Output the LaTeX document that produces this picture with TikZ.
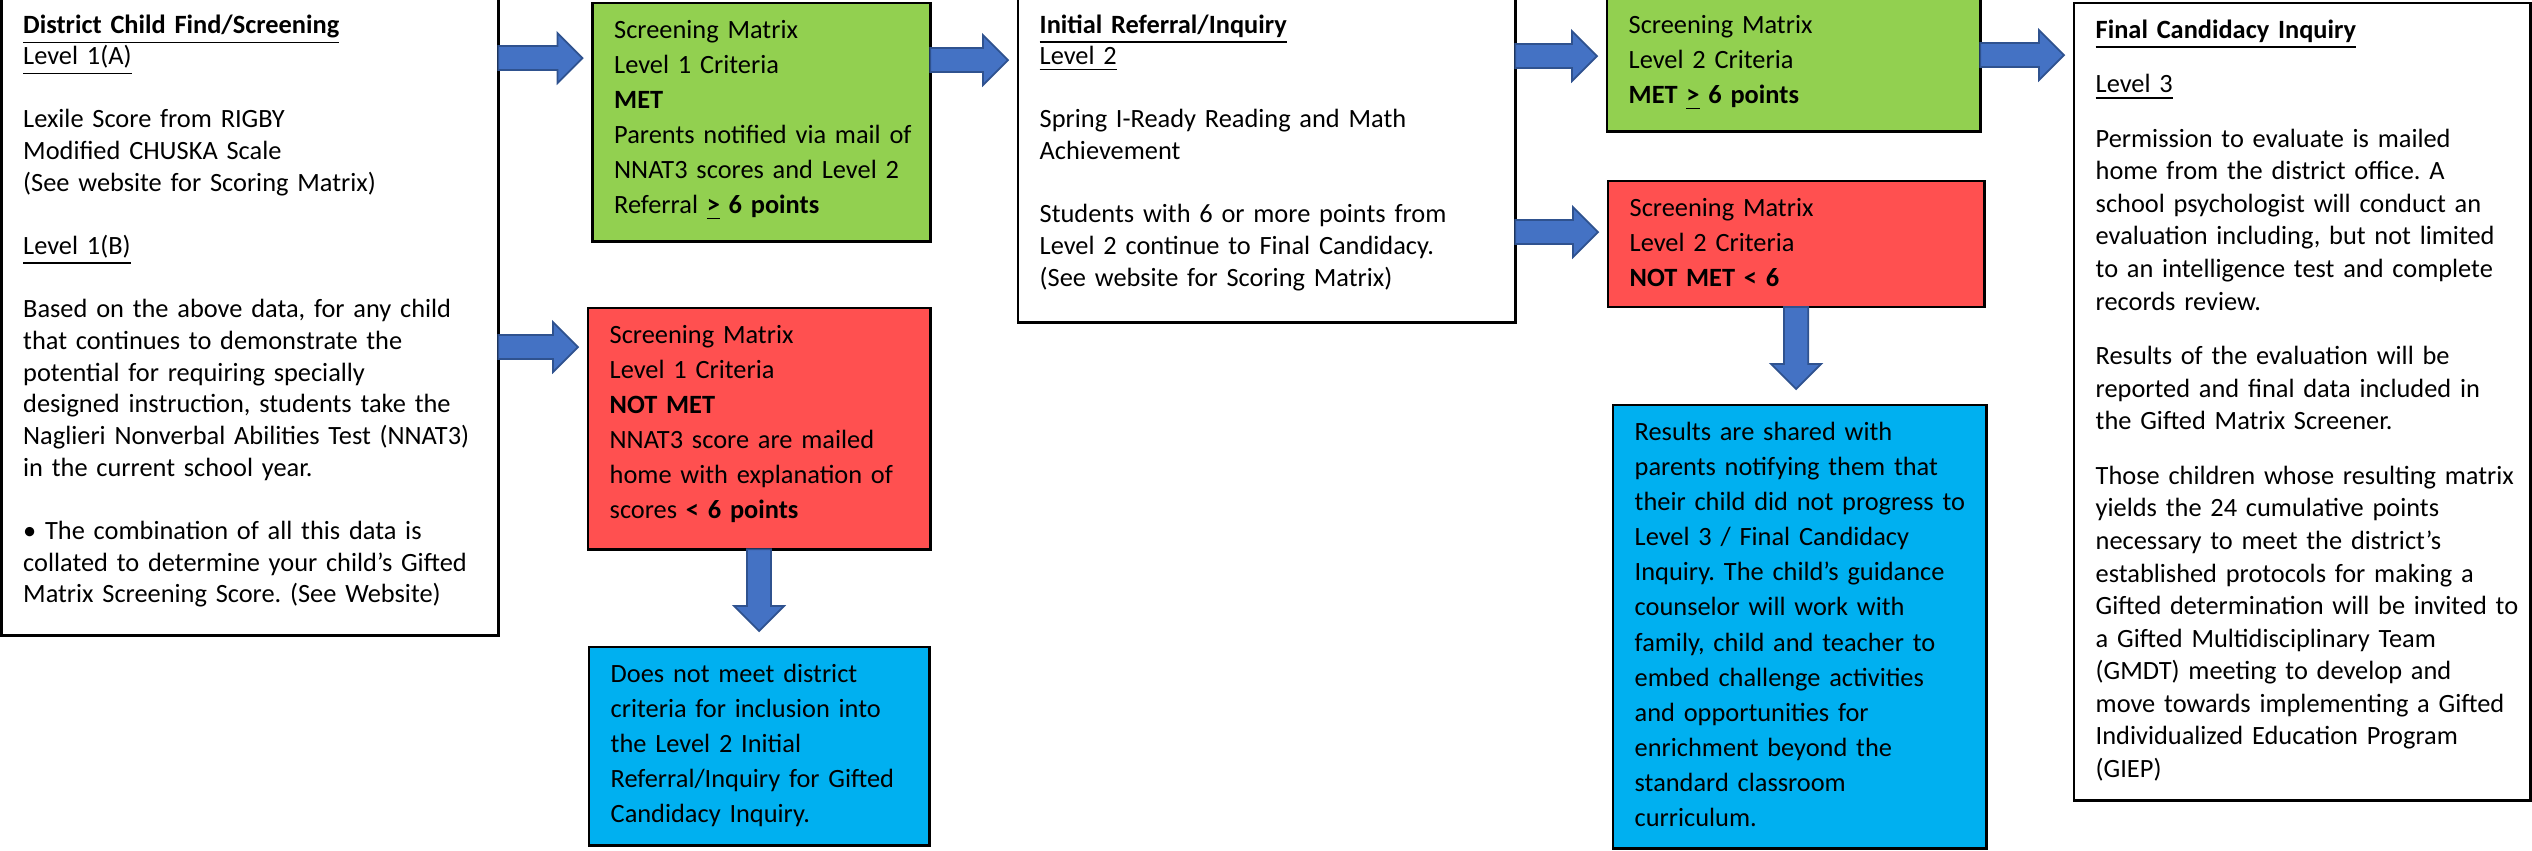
\documentclass[tikz,border=0pt]{standalone}
\usepackage{fontspec}
\setmainfont{Carlito}
\usetikzlibrary{calc}
\definecolor{arrowfill}{HTML}{4472C4}
\definecolor{arrowedge}{HTML}{2F528F}
\definecolor{metgreen}{HTML}{92D050}
\definecolor{notred}{HTML}{FF5050}
\definecolor{infoblue}{HTML}{00B0F0}
\frenchspacing

\begin{document}
\begin{tikzpicture}[x=0.01cm, y=-0.01cm,
    stage/.style={draw, line width=0.8pt, anchor=north west, inner sep=0pt, outer sep=0pt},
    plaintext/.style={anchor=base west, inner sep=0pt, text width=6cm, align=left,
        font=\fontsize{7.5pt}{9pt}\selectfont},
    colortext/.style={plaintext, font=\fontsize{7.5pt}{10pt}\selectfont},
    finaltext/.style={plaintext, font=\fontsize{7.5pt}{9.25pt}\selectfont},
    harrow/.style={fill=arrowfill, draw=arrowedge, line width=0.5pt,
        to path={let \p1=(\tikztostart), \p2=(\tikztotarget) in
            (\x1,\y1+0.12cm) -- (\x2-0.35cm,\y1+0.12cm) -- (\x2-0.35cm,\y1+0.25cm)
            -- (\x2-0.1cm,\y1) -- (\x2-0.35cm,\y1-0.25cm) -- (\x2-0.35cm,\y1-0.12cm)
            -- (\x1,\y1-0.12cm) -- cycle}},
    varrow/.style={fill=arrowfill, draw=arrowedge, line width=0.5pt,
        to path={let \p1=(\tikztostart), \p2=(\tikztotarget) in
            (\x1-0.12cm,\y1) -- (\x1-0.12cm,\y2+0.41cm) -- (\x1-0.25cm,\y2+0.41cm)
            -- (\x1,\y2+0.16cm) -- (\x1+0.25cm,\y2+0.41cm) -- (\x1+0.12cm,\y2+0.41cm)
            -- (\x1+0.12cm,\y1) -- cycle}}]
        \useasboundingbox (0,0) rectangle (2532,850);

        \draw (1.5,-2) node[stage, minimum width=4.965cm, minimum height=6.37cm] (dist) {};
        \draw (592.5,3) node[stage, fill=metgreen, minimum width=3.375cm, minimum height=2.38cm] (met1) {};
        \draw (588,308) node[stage, fill=notred, minimum width=3.42cm, minimum height=2.41cm] (notmet1) {};
        \draw (589,647) node[stage, fill=infoblue, minimum width=3.4cm, minimum height=1.98cm] (stop1) {};

        \draw (1018,-2) node[stage, minimum width=4.97cm, minimum height=3.24cm] (initial) {};
        \draw (1607,-2) node[stage, fill=metgreen, minimum width=3.73cm, minimum height=1.33cm] (met2) {};
        \draw (1608,181) node[stage, fill=notred, minimum width=3.76cm, minimum height=1.26cm] (notmet2) {};
        \draw (1613,405) node[stage, fill=infoblue, minimum width=3.73cm, minimum height=4.43cm] (stop2) {};

        \draw (2074,3) node[stage, minimum width=4.56cm, minimum height=7.97cm] (final) {};

        \draw ([shift={(21,35)}]dist.north west) node[plaintext] (distText) {%
            \textbf{\underline{District Child Find/Screening}}\\
            \underline{Level 1(A)}\\[9pt]
            Lexile Score from RIGBY\\
            Modified CHUSKA Scale\\
            (See website for Scoring Matrix)\\[9pt]
            \underline{Level 1(B)}\\[9pt]
            Based on the above data, for any child\\
            that continues to demonstrate the\\
            potential for requiring specially\\
            designed instruction, students take the\\
            Naglieri Nonverbal Abilities Test (NNAT3)\\
            in the current school year.\\[9pt]
            • The combination of all this data is\\
            collated to determine your child’s Gifted\\
            Matrix Screening Score. (See Website)};
        \draw ([shift={(21,35)}]met1.north west) node[colortext] (met1Text) {%
            Screening Matrix\\
            Level 1 Criteria\\
            \textbf{MET}\\
            Parents notified via mail of\\
            NNAT3 scores and Level 2\\
            Referral \textbf{\underline{>} 6 points}};
        \draw ([shift={(21,35)}]notmet1.north west) node[colortext] (notmet1Text) {%
            Screening Matrix\\
            Level 1 Criteria\\
            \textbf{NOT MET}\\
            NNAT3 score are mailed\\
            home with explanation of\\
            scores \textbf{< 6 points}};
        \draw ([shift={(21,35)}]stop1.north west) node[colortext] (stop1Text) {%
            Does not meet district\\
            criteria for inclusion into\\
            the Level 2 Initial\\
            Referral/Inquiry for Gifted\\
            Candidacy Inquiry.};
        \draw ([shift={(21,35)}]initial.north west) node[plaintext] (initialText) {%
            \textbf{\underline{Initial Referral/Inquiry}}\\
            \underline{Level 2}\\[9pt]
            Spring I-Ready Reading and Math\\
            Achievement\\[9pt]
            Students with 6 or more points from\\
            Level 2 continue to Final Candidacy.\\
            (See website for Scoring Matrix)};
        \draw ([shift={(21,35)}]met2.north west) node[colortext] (met2Text) {%
            Screening Matrix\\
            Level 2 Criteria\\
            \textbf{MET \underline{>} 6 points}};
        \draw ([shift={(21,35)}]notmet2.north west) node[colortext] (notmet2Text) {%
            Screening Matrix\\
            Level 2 Criteria\\
            \textbf{NOT MET < 6}};
        \draw ([shift={(21,35)}]stop2.north west) node[colortext] (stop2Text) {%
            Results are shared with\\
            parents notifying them that\\
            their child did not progress to\\
            Level 3 / Final Candidacy\\
            Inquiry. The child’s guidance\\
            counselor will work with\\
            family, child and teacher to\\
            embed challenge activities\\
            and opportunities for\\
            enrichment beyond the\\
            standard classroom\\
            curriculum.};
        \draw ([shift={(21,35)}]final.north west) node[finaltext] (finalText) {%
            \textbf{\underline{Final Candidacy Inquiry}}\\[6.3pt]
            \underline{Level 3}\\[6.3pt]
            Permission to evaluate is mailed\\
            home from the district office. A\\
            school psychologist will conduct an\\
            evaluation including, but not limited\\
            to an intelligence test and complete\\
            records review.\\[6.3pt]
            Results of the evaluation will be\\
            reported and final data included in\\
            the Gifted Matrix Screener.\\[6.3pt]
            Those children whose resulting matrix\\
            yields the 24 cumulative points\\
            necessary to meet the district’s\\
            established protocols for making a\\
            Gifted determination will be invited to\\
            a Gifted Multidisciplinary Team\\
            (GMDT) meeting to develop and\\
            move towards implementing a Gifted\\
            Individualized Education Program\\
            (GIEP)};

        \draw[harrow] (dist.east |- 0,58) to (met1.west |- 0,58);
        \draw[harrow] (dist.east |- 0,347) to (notmet1.west |- 0,347);
        \draw[harrow] (met1.east |- 0,60) to (initial.west |- 0,60);
        \draw[harrow] (initial.east |- 0,56) to (met2.west |- 0,56);
        \draw[harrow] (initial.east |- 0,232) to (notmet2.west |- 0,232);
        \draw[harrow] (met2.east |- 0,55) to (final.west |- 0,55);
        \draw[varrow] (notmet1.south) to (stop1.north);
        \draw[varrow] (notmet2.south) to (stop2.north);
    \end{tikzpicture}
\end{document}
